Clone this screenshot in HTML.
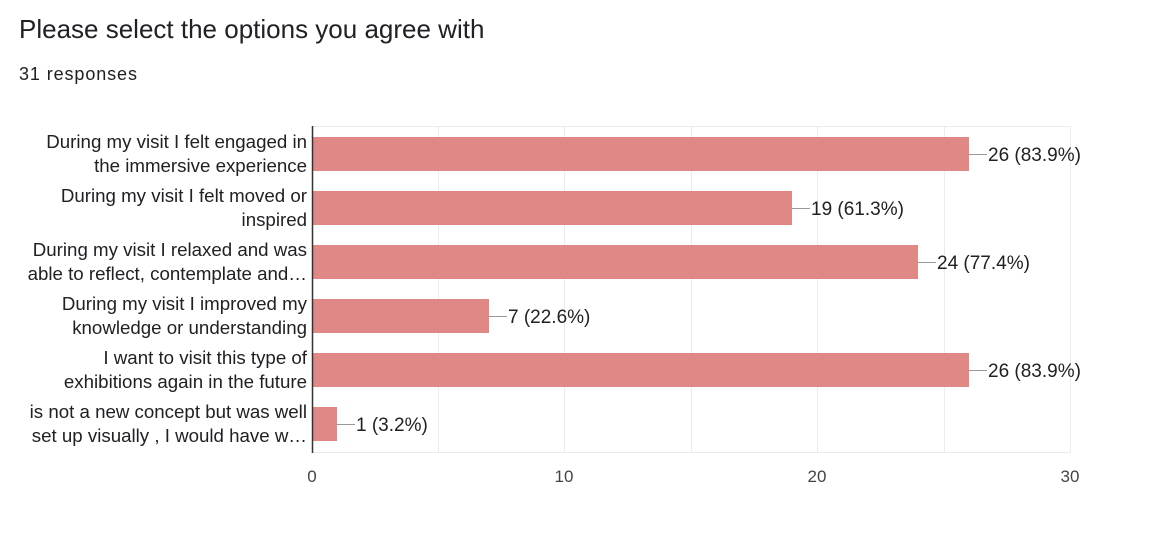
<!DOCTYPE html>
<html><head><style>
body{margin:0;background:#fff;width:1176px;height:528px;overflow:hidden;font-family:"Liberation Sans",Arial,sans-serif;}
</style></head><body>
<svg width="1176" height="528" xmlns="http://www.w3.org/2000/svg" font-family="Liberation Sans, Arial, sans-serif">
<text x="19" y="38" font-size="26" fill="#202124">Please select the options you agree with</text>
<text x="19" y="80" font-size="18" letter-spacing="0.9" fill="#202124">31 responses</text>
<g stroke="#ebebeb" stroke-width="1">
<line x1="312" y1="126.5" x2="1071" y2="126.5"/>
<line x1="312" y1="452.5" x2="1071" y2="452.5"/>
<line x1="438.5" y1="126" x2="438.5" y2="453"/>
<line x1="564.5" y1="126" x2="564.5" y2="453"/>
<line x1="691.5" y1="126" x2="691.5" y2="453"/>
<line x1="817.5" y1="126" x2="817.5" y2="453"/>
<line x1="944.5" y1="126" x2="944.5" y2="453"/>
<line x1="1070.5" y1="126" x2="1070.5" y2="453"/>
</g>
<g fill="#e08886">
<rect x="312" y="137" width="657" height="34"/>
<rect x="312" y="191" width="480" height="34"/>
<rect x="312" y="245" width="606" height="34"/>
<rect x="312" y="299" width="177" height="34"/>
<rect x="312" y="353" width="657" height="34"/>
<rect x="312" y="407" width="25" height="34"/>
</g>
<line x1="312.5" y1="126" x2="312.5" y2="453" stroke="#333" stroke-width="1.5"/>
<g stroke="#999" stroke-width="1">
<line x1="969" y1="154.5" x2="987" y2="154.5"/>
<line x1="792" y1="208.5" x2="810" y2="208.5"/>
<line x1="918" y1="262.5" x2="936" y2="262.5"/>
<line x1="489" y1="316.5" x2="507" y2="316.5"/>
<line x1="969" y1="370.5" x2="987" y2="370.5"/>
<line x1="337" y1="424.5" x2="355" y2="424.5"/>
</g>
<g font-size="19" fill="#202124">
<text x="988" y="161">26 (83.9%)</text>
<text x="811" y="215">19 (61.3%)</text>
<text x="937" y="269">24 (77.4%)</text>
<text x="508" y="323">7 (22.6%)</text>
<text x="988" y="377">26 (83.9%)</text>
<text x="356" y="431">1 (3.2%)</text>
</g>
<g font-size="18.7" fill="#202124" text-anchor="end">
<text x="307" y="148">During my visit I felt engaged in</text>
<text x="307" y="172">the immersive experience</text>
<text x="307" y="202">During my visit I felt moved or</text>
<text x="307" y="226">inspired</text>
<text x="307" y="256">During my visit I relaxed and was</text>
<text x="307" y="280">able to reflect, contemplate and…</text>
<text x="307" y="310">During my visit I improved my</text>
<text x="307" y="334">knowledge or understanding</text>
<text x="307" y="364">I want to visit this type of</text>
<text x="307" y="388">exhibitions again in the future</text>
<text x="307" y="418">is not a new concept but was well</text>
<text x="307" y="442">set up visually , I would have w…</text>
</g>
<g font-size="17" fill="#444" text-anchor="middle">
<text x="312" y="482">0</text>
<text x="564" y="482">10</text>
<text x="817" y="482">20</text>
<text x="1070" y="482">30</text>
</g>
</svg>
</body></html>
